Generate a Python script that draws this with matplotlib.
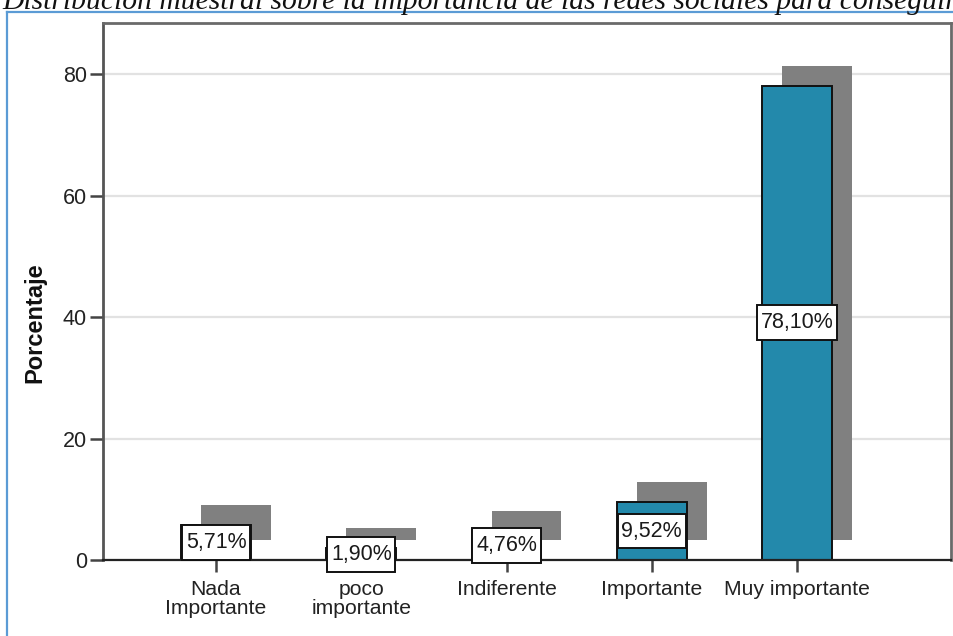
import matplotlib
matplotlib.use("Agg")
import matplotlib.pyplot as plt
from matplotlib.transforms import ScaledTranslation
from matplotlib.lines import Line2D
from matplotlib.path import Path

categories = ["Nada\nImportante", "poco\nimportante", "Indiferente", "Importante", "Muy importante"]
values = [5.71, 1.90, 4.76, 9.52, 78.10]
labels = ["5,71%", "1,90%", "4,76%", "9,52%", "78,10%"]
yticks = [0, 20, 40, 60, 80]
title = "Distribución muestral sobre la importancia de las redes sociales para conseguir"

DPI = 100
fig = plt.figure(figsize=(9.54, 6.36), dpi=DPI)
fig.patch.set_facecolor("white")
plt.rcParams["font.family"] = ["Liberation Sans", "DejaVu Sans"]

ax = fig.add_axes([103 / 954, 76 / 636, 848 / 954, 537 / 636])
x = list(range(len(values)))
bar_w = 0.48


def label_box(x0, y0, width, height, mutation_size):
    px = 0.17 * mutation_size
    py = 0.32 * mutation_size
    l, r = x0 - px, x0 + width + px
    b, t = y0 - py, y0 + height + py
    return Path([(l, b), (r, b), (r, t), (l, t), (l, b)],
                [Path.MOVETO, Path.LINETO, Path.LINETO, Path.LINETO, Path.CLOSEPOLY])


# grid
ax.set_axisbelow(True)
ax.yaxis.grid(True, color="#e2e2e2", linewidth=1.6)

# shadow (offset copy of bars)
shadow_tr = ax.transData + ScaledTranslation(20 / DPI, 20 / DPI, fig.dpi_scale_trans)
ax.bar(x, values, width=bar_w, color="#808080", edgecolor="none",
       transform=shadow_tr, zorder=1)
# bars
ax.bar(x, values, width=bar_w, color="#2389ab", edgecolor="#111111",
       linewidth=1.4, zorder=2)

for xi, v, lab in zip(x, values, labels):
    ax.text(xi, v / 2, lab, ha="center", va="center", fontsize=15.5, color="#1a1a1a",
            zorder=5,
            bbox=dict(boxstyle=label_box, facecolor="white",
                      edgecolor="#111111", linewidth=1.4))

ax.set_xlim(-0.778, 5.06)
ax.set_ylim(0, 88.4)
ax.set_xticks(x)
ax.set_xticklabels(categories, fontsize=15.2, color="#222222", linespacing=1.0)
ax.set_yticks(yticks)
ax.set_yticklabels([str(t) for t in yticks], fontsize=15.5, color="#222222")
ax.tick_params(axis="y", length=9.5, width=1.8, color="#444444", pad=2)
ax.tick_params(axis="x", length=8.6, width=1.8, color="#444444", pad=6)
ax.set_ylabel("Porcentaje", fontsize=17, fontweight="bold", color="#111111")
ax.yaxis.set_label_coords(-(103 - 46) / 848, (560 - 323) / 537)

for s in ["top", "right"]:
    ax.spines[s].set_color("#6a6a6a")
    ax.spines[s].set_linewidth(2.0)
ax.spines["left"].set_color("#555555")
ax.spines["left"].set_linewidth(2.0)
ax.spines["bottom"].set_color("#222222")
ax.spines["bottom"].set_linewidth(1.6)

# outer blue frame
fig.add_artist(Line2D([7 / 954, 1.0], [1 - 12 / 636, 1 - 12 / 636],
                      color="#5b9bd5", linewidth=1.6, transform=fig.transFigure))
fig.add_artist(Line2D([7 / 954, 7 / 954], [0.0, 1 - 12 / 636],
                      color="#5b9bd5", linewidth=1.6, transform=fig.transFigure))

# cropped title
fig.text(2 / 954, 1 - 9 / 636, title, ha="left", va="baseline",
         fontsize=21.3, fontstyle="italic", family=["Liberation Serif", "DejaVu Serif"],
         color="#111111")

fig.savefig("out.png", dpi=DPI)
